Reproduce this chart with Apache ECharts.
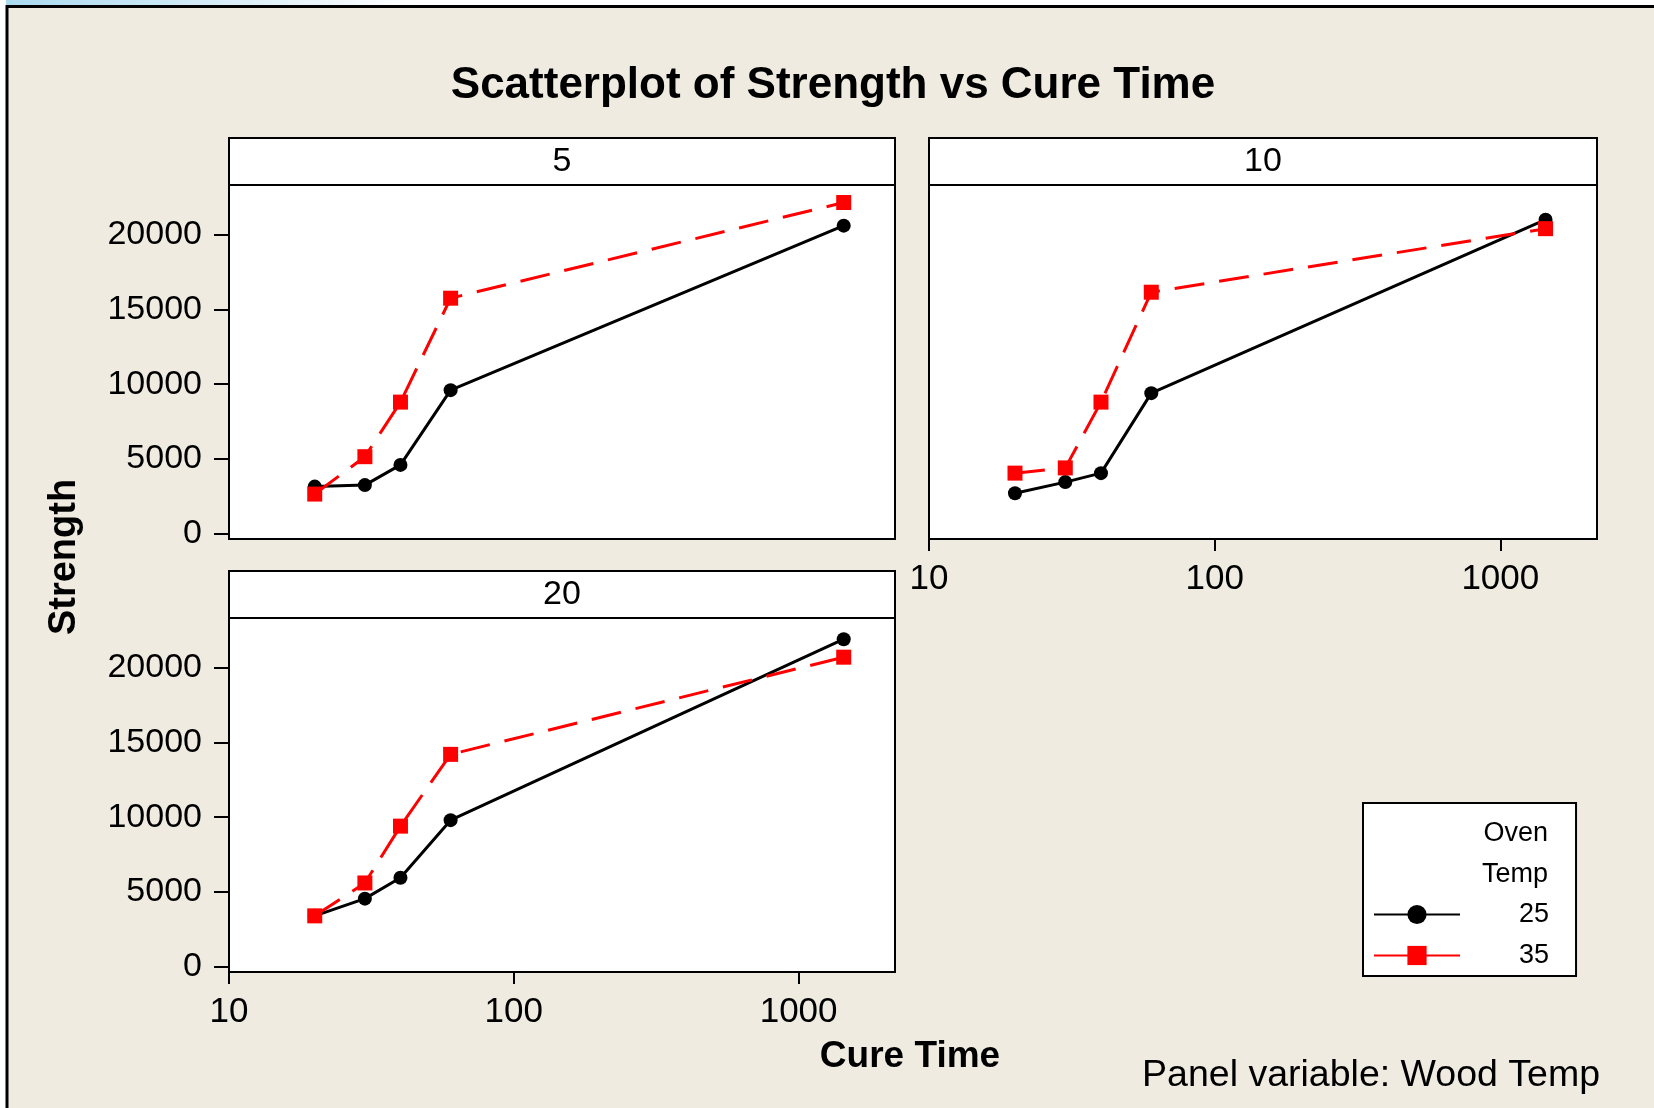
<!DOCTYPE html>
<html><head><meta charset="utf-8">
<script src="https://cdn.jsdelivr.net/npm/echarts@6/dist/echarts.min.js"></script>
<style>html,body{margin:0;padding:0;background:#EFEBE0}#c{width:1654px;height:1108px}</style>
</head><body><div id="c"></div>
<script>
// ---- data ----
const cureTime = [20, 30, 40, 60, 1440];
const panels = ['5', '10', '20'];           // Wood Temp
const ovenTemps = ['25', '35'];
const wood5_oven25  = [3150, 3250, 4600, 9600, 20600];
const wood5_oven35  = [2650, 5150, 8800, 15750, 22150];
const wood10_oven25 = [2700, 3450, 4050, 9400, 21000];
const wood10_oven35 = [4050, 4400, 8800, 16150, 20400];
const wood20_oven25 = [3400, 4550, 5950, 9800, 21900];
const wood20_oven35 = [3400, 5600, 9400, 14200, 20700];
const yTicks = [0, 5000, 10000, 15000, 20000];
const xTicks = [10, 100, 1000];

const panelData = [
  [wood5_oven25, wood5_oven35],
  [wood10_oven25, wood10_oven35],
  [wood20_oven25, wood20_oven35]
];

// ---- layout ----
const grids = [
  {left: 229, top: 185, width: 666, height: 354},
  {left: 929, top: 185, width: 668, height: 354},
  {left: 229, top: 618, width: 666, height: 354}
];
const stripH = 47;
const REG = 'Liberation Sans';
const BG = '#EFEBE0';

const chart = echarts.init(document.getElementById('c'));

const series = [];
panelData.forEach((pair, i) => {
  pair.forEach((vals, k) => {
    const red = k === 1;
    series.push({
      name: ovenTemps[k],
      type: 'line',
      xAxisIndex: i, yAxisIndex: i,
      data: cureTime.map((x, j) => [x, vals[j]]),
      symbol: red ? 'rect' : 'circle',
      symbolSize: red ? 15 : 14,
      itemStyle: {color: red ? '#FF0000' : '#000000'},
      lineStyle: {color: red ? '#FF0000' : '#000000', width: 3, type: red ? [30, 15] : 'solid'},
      z: red ? 3 : 2,
      animation: false
    });
  });
});

const graphics = [
  {type: 'rect', shape: {x: 0, y: 0, width: 1654, height: 6}, style: {fill: new echarts.graphic.LinearGradient(0, 0, 1, 0, [{offset: 0, color: '#A9D9EF'}, {offset: 0.25, color: '#FFFFFF'}, {offset: 1, color: '#FFFFFF'}])}, z: -10},
  {type: 'rect', shape: {x: 0, y: 0, width: 6, height: 1108}, style: {fill: '#FFFFFF'}, z: -10},
  {type: 'rect', shape: {x: 7, y: 6.5, width: 1700, height: 1200}, style: {fill: BG, stroke: '#000', lineWidth: 3}, z: -9},
  {type: 'text', x: 833, y: 86, style: {text: 'Scatterplot of Strength vs Cure Time', font: 'bold 44px "Liberation Sans"', fill: '#000', align: 'center', verticalAlign: 'middle'}},
  {type: 'text', x: 65, y: 557, rotation: Math.PI / 2, style: {text: 'Strength', font: 'bold 38px "Liberation Sans"', fill: '#000', align: 'center', verticalAlign: 'middle'}},
  {type: 'text', x: 910, y: 1057, style: {text: 'Cure Time', font: 'bold 37px "Liberation Sans"', fill: '#000', align: 'center', verticalAlign: 'middle'}},
  {type: 'text', x: 1600, y: 1076, style: {text: 'Panel variable: Wood Temp', font: '37.5px "Liberation Sans"', fill: '#000', align: 'right', verticalAlign: 'middle'}},
  {type: 'text', x: 1548, y: 834, z: 100, style: {text: 'Oven', font: '27px "Liberation Sans"', fill: '#000', align: 'right', verticalAlign: 'middle'}},
  {type: 'text', x: 1548, y: 875, z: 100, style: {text: 'Temp', font: '27px "Liberation Sans"', fill: '#000', align: 'right', verticalAlign: 'middle'}}
];
grids.forEach((g, i) => {
  graphics.push({type: 'rect', shape: {x: g.left, y: g.top - stripH, width: g.width, height: stripH}, style: {fill: '#FFFFFF', stroke: '#000', lineWidth: 2}});
  graphics.push({type: 'text', x: g.left + g.width / 2, y: g.top - stripH / 2, style: {text: panels[i], font: '34px "Liberation Sans"', fill: '#000', align: 'center', verticalAlign: 'middle'}});
});

const option = {
  backgroundColor: BG,
  animation: false,
  grid: grids.map(g => Object.assign({show: true, backgroundColor: '#FFFFFF', borderColor: '#000', borderWidth: 2, containLabel: false}, g)),
  xAxis: grids.map((g, i) => ({
    type: 'log', logBase: 10, gridIndex: i, min: 10, max: 2180,
    axisLine: {show: true, onZero: false, lineStyle: {color: '#000', width: 2}},
    axisTick: {show: i !== 0, length: 12, lineStyle: {color: '#000', width: 2}, customValues: xTicks},
    axisLabel: {show: i !== 0, customValues: xTicks, margin: 23, color: '#000', fontFamily: REG, fontSize: 35, formatter: v => String(v)},
    splitLine: {show: false}, minorTick: {show: false}, minorSplitLine: {show: false}
  })),
  yAxis: grids.map((g, i) => ({
    type: 'value', gridIndex: i, min: -355, max: 23320,
    axisLine: {show: true, onZero: false, lineStyle: {color: '#000', width: 2}},
    axisTick: {show: i !== 1, length: 15, lineStyle: {color: '#000', width: 2}, customValues: yTicks},
    axisLabel: {show: i !== 1, customValues: yTicks, margin: 27, color: '#000', fontFamily: REG, fontSize: 34, formatter: v => String(v)},
    splitLine: {show: false}
  })),
  legend: {
    data: ovenTemps,
    orient: 'vertical',
    left: 1363, top: 803,
    itemWidth: 86, itemHeight: 24, itemGap: 14,
    padding: [98, 27, 7, 10],
    backgroundColor: '#FFFFFF', borderColor: '#000', borderWidth: 2, borderRadius: 0,
    lineStyle: {type: 'solid'},
    textStyle: {fontFamily: REG, fontSize: 27, lineHeight: 27, color: '#000', padding: [0, 0, 0, 54]},
    selectedMode: false
  },
  graphic: graphics,
  series: series
};
chart.setOption(option);
</script>
</body></html>
